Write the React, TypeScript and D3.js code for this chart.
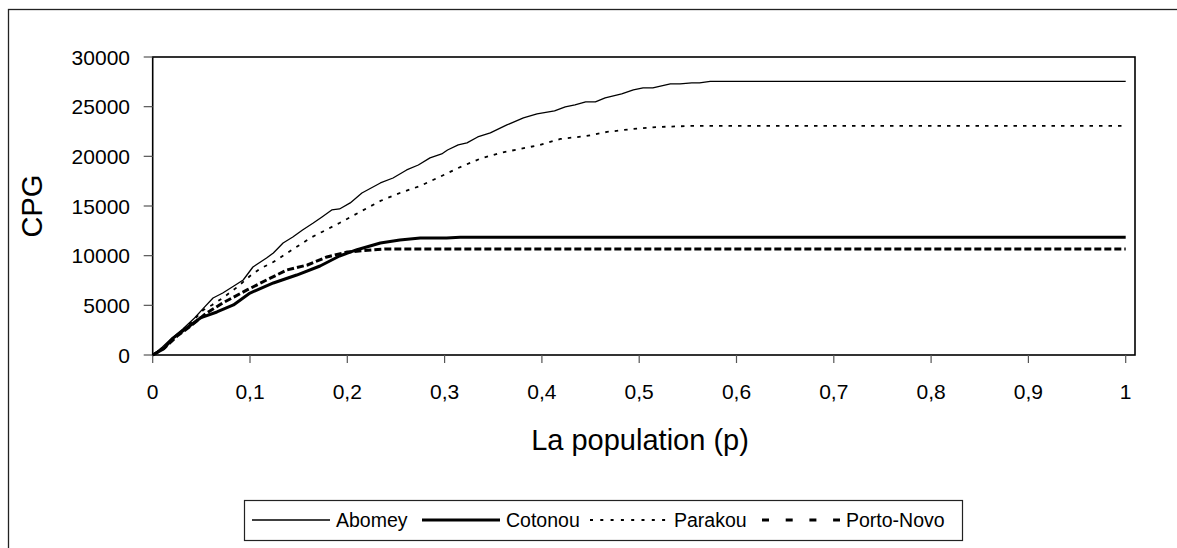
import React from "react";
import * as d3 from "d3";

type Pt = [number, number];

const abomey: Pt[] = [[0,0],[0.01,800],[0.0195,1680],[0.031,2620],[0.043,3730],[0.052,4700],[0.062,5740],[0.072,6240],[0.085,7050],[0.093,7550],[0.103,8860],[0.117,9770],[0.124,10270],[0.134,11280],[0.144,11880],[0.154,12590],[0.165,13290],[0.174,13900],[0.184,14600],[0.192,14700],[0.203,15310],[0.215,16310],[0.234,17320],[0.247,17820],[0.261,18630],[0.273,19130],[0.285,19840],[0.297,20240],[0.303,20640],[0.314,21150],[0.323,21350],[0.334,21950],[0.347,22360],[0.364,23160],[0.381,23870],[0.395,24270],[0.413,24570],[0.424,24970],[0.434,25180],[0.445,25480],[0.455,25480],[0.465,25880],[0.482,26280],[0.494,26690],[0.504,26890],[0.514,26890],[0.532,27290],[0.542,27290],[0.554,27390],[0.562,27390],[0.573,27550],[1,27550]];

const cotonou: Pt[] = [[0,0],[0.011,600],[0.021,1700],[0.035,2720],[0.049,3730],[0.066,4330],[0.083,5040],[0.1,6240],[0.124,7250],[0.148,8050],[0.172,8960],[0.192,9970],[0.21,10600],[0.234,11280],[0.254,11580],[0.275,11780],[0.302,11780],[0.316,11850],[1,11850]];

const parakou: Pt[] = [[0,0],[0.012,800],[0.025,2000],[0.04,3300],[0.052,4530],[0.061,5040],[0.072,5740],[0.087,6850],[0.1,7950],[0.11,8660],[0.124,9370],[0.143,10570],[0.162,11780],[0.174,12390],[0.192,13290],[0.213,14400],[0.234,15510],[0.254,16310],[0.275,17020],[0.295,17930],[0.314,18830],[0.336,19740],[0.357,20340],[0.398,21150],[0.419,21750],[0.446,22050],[0.467,22460],[0.494,22760],[0.521,22960],[0.552,23060],[1,23060]];

const portoNovo: Pt[] = [[0,0],[0.012,700],[0.025,1900],[0.04,3000],[0.055,4200],[0.072,5240],[0.097,6550],[0.117,7550],[0.138,8560],[0.159,9060],[0.179,9870],[0.2,10370],[0.206,10420],[0.227,10600],[0.241,10680],[1,10680]];

const xTicks = [0, 0.1, 0.2, 0.3, 0.4, 0.5, 0.6, 0.7, 0.8, 0.9, 1];
const yTicks = [0, 5000, 10000, 15000, 20000, 25000, 30000];
const seriesNames = ["Abomey", "Cotonou", "Parakou", "Porto-Novo"];

const FONT = "'Liberation Sans', Arial, sans-serif";

export default function App() {
  const left = 152.7, right = 1125.7, top = 57, bottom = 355;
  const x = d3.scaleLinear().domain([0, 1]).range([left, right]);
  const y = d3.scaleLinear().domain([0, 30000]).range([bottom, top]);
  const line = d3.line<Pt>().x(d => x(d[0])).y(d => y(d[1]));

  const styles = [
    { w: 1.3, dash: undefined as string | undefined, legendDash: undefined as string | undefined },
    { w: 3, dash: undefined, legendDash: undefined },
    { w: 1.8, dash: "3.5,6", legendDash: "3,7.3" },
    { w: 3, dash: "7,3", legendDash: "7,16.7" },
  ];
  const data = [abomey, cotonou, parakou, portoNovo];
  const legendPos = [252, 422, 590, 762];

  return (
    <svg width={1177} height={548} style={{ position: "fixed", left: 0, top: 0, background: "#fff" }} fontFamily={FONT}>
      <rect x={8.5} y={9.5} width={1300} height={700} fill="#fff" stroke="#222" strokeWidth={1.3} />
      <rect x={left} y={top} width={1135 - left} height={bottom - top} fill="#fff" stroke="#000" strokeWidth={1.6} />
      {yTicks.map(t => (
        <g key={"y" + t}>
          <line x1={left - 9} x2={left} y1={y(t)} y2={y(t)} stroke="#555" strokeWidth={1.2} />
          <text x={130} y={y(t)} dy="0.36em" textAnchor="end" fontSize={21} fill="#000">{t}</text>
        </g>
      ))}
      {xTicks.map(t => (
        <g key={"x" + t}>
          <line x1={x(t)} x2={x(t)} y1={bottom} y2={bottom + 8} stroke="#555" strokeWidth={1.2} />
          <text x={x(t)} y={391} dy="0.36em" textAnchor="middle" fontSize={21} fill="#000">{String(t).replace(".", ",")}</text>
        </g>
      ))}
      {data.map((d, i) => (
        <path key={i} d={line(d) || ""} fill="none" stroke="#000" strokeWidth={styles[i].w} strokeDasharray={styles[i].dash} strokeLinejoin="round" />
      ))}
      <text x={640} y={450} textAnchor="middle" fontSize={29} fill="#000">La population (p)</text>
      <text transform={`translate(42,${(top + bottom) / 2}) rotate(-90)`} textAnchor="middle" fontSize={29} fill="#000">CPG</text>
      <rect x={244.5} y={500.5} width={718} height={40} fill="#fff" stroke="#222" strokeWidth={1.2} />
      {seriesNames.map((n, i) => (
        <g key={n}>
          <line x1={legendPos[i]} x2={legendPos[i] + 78} y1={520} y2={520} stroke="#000" strokeWidth={styles[i].w} strokeDasharray={styles[i].legendDash} />
          <text x={legendPos[i] + 84} y={520} dy="0.36em" fontSize={19.5} fill="#000">{n}</text>
        </g>
      ))}
    </svg>
  );
}
